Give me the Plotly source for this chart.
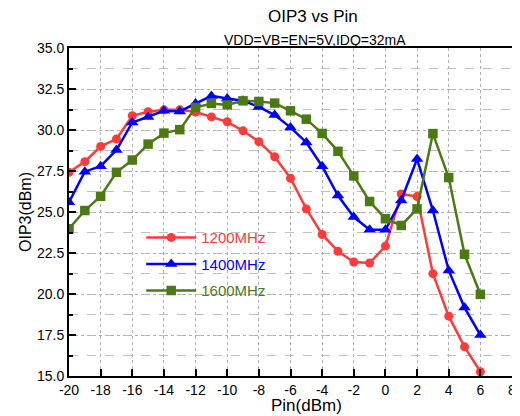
import plotly.graph_objects as go

pin = list(range(-20, 7))
oip3_1200 = [27.42, 28.07, 29.0, 29.45, 30.87, 31.11, 31.23, 31.23, 31.1, 30.8,
             30.5, 29.95, 29.29, 28.37, 27.06, 25.19, 23.63, 22.6, 21.95, 21.89,
             22.92, 26.1, 25.94, 21.24, 18.65, 16.78, 15.26]
oip3_1400 = [25.6, 27.46, 27.79, 28.78, 30.46, 30.8, 31.17, 31.13, 31.62, 32.08,
             31.92, 31.78, 31.41, 30.91, 30.16, 29.24, 27.79, 26.0, 24.69, 23.92,
             23.92, 25.7, 28.23, 25.09, 21.44, 19.17, 17.5]
oip3_1600 = [23.98, 25.09, 25.96, 27.42, 28.17, 29.14, 29.81, 30.02, 31.37, 31.62,
             31.53, 31.78, 31.74, 31.64, 31.17, 30.66, 29.79, 28.7, 27.2, 25.64,
             24.59, 24.18, 25.19, 29.78, 27.1, 22.42, 19.98]
series_names = ["1200MHz", "1400MHz", "1600MHz"]
x_ticks = list(range(-20, 9, 2))
x_ticktext = [str(v) for v in x_ticks]
y_ticks = [15.0, 17.5, 20.0, 22.5, 25.0, 27.5, 30.0, 32.5, 35.0]
y_ticktext = [f"{v:.1f}" for v in y_ticks]

colors = ["#ff3a3a", "#0000ff", "#4b7a15"]
symbols = ["circle", "triangle-up", "square"]
msizes = [9, 11, 9.5]

fig = go.Figure()
for i, (ys, name) in enumerate(zip([oip3_1200, oip3_1400, oip3_1600], series_names)):
    fig.add_trace(go.Scatter(
        x=pin, y=ys, mode="lines+markers",
        name=f"<span style='color:{colors[i]}'>{name}</span>",
        legendgroup=f"g{i}",
        line=dict(color=colors[i], width=2.5),
        marker=dict(symbol=symbols[i], size=msizes[i], color=colors[i]),
    ))

font_family = "Liberation Sans, Arial, sans-serif"
axis_common = dict(
    showline=True, linecolor="black", linewidth=2, mirror=True,
    ticks="inside", tickcolor="black", tickwidth=2, ticklen=7,
    zeroline=False, automargin=False,
    tickfont=dict(family=font_family, size=14, color="black"),
)
fig.update_xaxes(
    range=[-20, 8], tickvals=x_ticks, ticktext=x_ticktext,
    showgrid=True, gridcolor="#b0b0b0", griddash="dot", gridwidth=1,
    **axis_common,
)
fig.update_yaxes(
    range=[15, 35], tickvals=y_ticks, ticktext=y_ticktext,
    showgrid=True, gridcolor="#b0b0b0", griddash="dot", gridwidth=1,
    minor=dict(dtick=1.25, tick0=15, ticks="inside", ticklen=4, tickcolor="black", tickwidth=2,
               showgrid=True, gridcolor="#c0c0c0", griddash="dash", gridwidth=1),
    **axis_common,
)

# page body has an 8px margin, so the figure is sized/offset to compensate
fig.update_layout(
    width=512, height=408,
    margin=dict(l=61, r=8, t=40, b=40),
    paper_bgcolor="white", plot_bgcolor="white",
    font=dict(family=font_family, color="black"),
    showlegend=True,
    legend=dict(
        x=0.163, y=0.472, xanchor="left", yanchor="top",
        bgcolor="rgba(0,0,0,0)", borderwidth=0,
        font=dict(family=font_family, size=15),
        itemwidth=50, tracegroupgap=4, traceorder="grouped",
    ),
    annotations=[
        dict(text="OIP3 vs Pin", xref="paper", yref="paper", x=0.55, y=1.0, yshift=32,
             xanchor="center", yanchor="middle", showarrow=False,
             font=dict(family=font_family, size=17, color="black")),
        dict(text="VDD=VB=EN=5V,IDQ=32mA", xref="paper", yref="paper", x=0.555, y=1.0, yshift=8,
             xanchor="center", yanchor="middle", showarrow=False,
             font=dict(family=font_family, size=14, color="black")),
        dict(text="Pin(dBm)", xref="paper", yref="paper", x=0.535, y=0.0, yshift=-29,
             xanchor="center", yanchor="middle", showarrow=False,
             font=dict(family=font_family, size=17, color="black")),
        dict(text="OIP3(dBm)", xref="paper", yref="paper", x=0.0, xshift=-44, y=0.5,
             xanchor="center", yanchor="middle", showarrow=False, textangle=-90,
             font=dict(family=font_family, size=16, color="black")),
    ],
)

fig.write_html("out.html")
